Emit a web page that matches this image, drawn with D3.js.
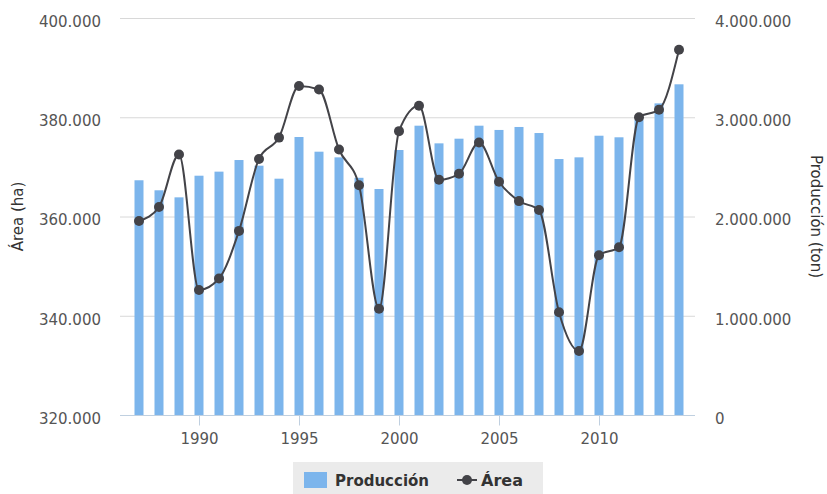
<!DOCTYPE html>
<html>
<head>
<meta charset="utf-8">
<script src="https://cdn.jsdelivr.net/npm/d3@7"></script>
<style>
  body { margin: 0; background: #fff; }
  text { font-family: "DejaVu Sans", sans-serif; }
</style>
</head>
<body>
<script>
// years shown on the x axis
var years = [1987, 1988, 1989, 1990, 1991, 1992, 1993, 1994, 1995, 1996,
             1997, 1998, 1999, 2000, 2001, 2002, 2003, 2004, 2005, 2006,
             2007, 2008, 2009, 2010, 2011, 2012, 2013, 2014];

// Producción (ton)
var produccion = [2365000, 2264000, 2193000, 2411000, 2452000, 2569000, 2512000, 2381000, 2801000, 2653000,
                  2596000, 2390000, 2277000, 2670000, 2915000, 2737000, 2784000, 2915000, 2872000, 2902000,
                  2841000, 2579000, 2596000, 2814000, 2798000, 2975000, 3140000, 3332000];

// Área (ha)
var area = [359100, 361900, 372500, 345200, 347500, 357100, 371600, 375900, 386300, 385600,
            373500, 366300, 341400, 377200, 382300, 367400, 368600, 374900, 367000, 363100,
            361300, 340700, 332900, 352200, 353800, 380000, 381500, 393600];

var xTicks = [1990, 1995, 2000, 2005, 2010];
var areaTicks = [320000, 340000, 360000, 380000, 400000];
var prodTicks = [0, 1000000, 2000000, 3000000, 4000000];

var w = 827, h = 494;
var pLeft = 120, pRight = 695, pTop = 18, pBottom = 415;

var loc = d3.formatLocale({ decimal: ",", thousands: ".", grouping: [3], currency: ["", ""] });
var fmt = loc.format(",d");

var svg = d3.select("body").append("svg")
  .attr("width", w)
  .attr("height", h);

var x = d3.scaleLinear().domain([1986.05, 2014.8]).range([pLeft, pRight]);
var yArea = d3.scaleLinear().domain([320000, 400000]).range([pBottom, pTop]);
var yProd = d3.scaleLinear().domain([0, 4000000]).range([pBottom, pTop]);

// grid
svg.append("g").selectAll("line")
  .data(areaTicks.slice(1))
  .enter().append("line")
  .attr("x1", pLeft).attr("x2", pRight)
  .attr("y1", function(d){ return yArea(d) + 0.5; })
  .attr("y2", function(d){ return yArea(d) + 0.5; })
  .attr("stroke", "#d8d8d8")
  .attr("stroke-width", 1);

// bars
svg.append("g").selectAll("rect")
  .data(years)
  .enter().append("rect")
  .attr("x", function(d){ return x(d) - 4.5; })
  .attr("width", 9)
  .attr("y", function(d, i){ return yProd(produccion[i]); })
  .attr("height", function(d, i){ return pBottom - yProd(produccion[i]); })
  .attr("fill", "#7cb5ec");

// x axis
var xAxis = svg.append("g")
  .attr("transform", "translate(0," + (pBottom + 0.5) + ")")
  .call(d3.axisBottom(x).tickValues(xTicks).tickFormat(d3.format("d")).tickSize(10).tickPadding(8));
xAxis.select(".domain").attr("stroke", "#c0d0e0").attr("d", "M" + pLeft + ",0H" + pRight);
xAxis.selectAll(".tick line").attr("stroke", "#c0d0e0");
xAxis.selectAll(".tick text").attr("fill", "#555").style("font-size", "15px");

// left axis
var yl = svg.append("g")
  .attr("transform", "translate(" + (pLeft - 16) + ",0)")
  .call(d3.axisLeft(yArea).tickValues(areaTicks).tickFormat(fmt).tickSize(0));
yl.select(".domain").remove();
yl.selectAll(".tick text").attr("fill", "#555").attr("dy", "0.55em").style("font-size", "15px");

// right axis
var yr = svg.append("g")
  .attr("transform", "translate(" + (pRight + 17) + ",0)")
  .call(d3.axisRight(yProd).tickValues(prodTicks).tickFormat(fmt).tickSize(0));
yr.select(".domain").remove();
yr.selectAll(".tick text").attr("fill", "#555").attr("dy", "0.55em").style("font-size", "15px");

// axis titles
svg.append("text")
  .text("Área (ha)")
  .attr("transform", "translate(23," + ((pTop + pBottom) / 2) + ") rotate(-90)")
  .attr("text-anchor", "middle")
  .attr("fill", "#333")
  .style("font-size", "15px");

svg.append("text")
  .text("Producción (ton)")
  .attr("transform", "translate(811," + ((pTop + pBottom) / 2) + ") rotate(90)")
  .attr("text-anchor", "middle")
  .attr("fill", "#333")
  .style("font-size", "15px");

// area line
var line = d3.line()
  .x(function(d){ return x(d); })
  .y(function(d, i){ return yArea(area[i]); })
  .curve(d3.curveMonotoneX);

svg.append("path")
  .datum(years)
  .attr("d", line)
  .attr("fill", "none")
  .attr("stroke", "#434348")
  .attr("stroke-width", 2);

svg.append("g").selectAll("circle")
  .data(years)
  .enter().append("circle")
  .attr("cx", function(d){ return x(d); })
  .attr("cy", function(d, i){ return yArea(area[i]); })
  .attr("r", 5)
  .attr("fill", "#434348");

// legend
var lg = svg.append("g");
lg.append("rect")
  .attr("x", 293).attr("y", 462)
  .attr("width", 250).attr("height", 34)
  .attr("fill", "#ebebeb");
lg.append("rect")
  .attr("x", 304).attr("y", 472)
  .attr("width", 23).attr("height", 16)
  .attr("fill", "#7cb5ec");
lg.append("text")
  .text("Producción")
  .attr("x", 335).attr("y", 486)
  .attr("fill", "#333")
  .style("font-size", "15px")
  .style("font-weight", "bold");
lg.append("line")
  .attr("x1", 457).attr("x2", 477)
  .attr("y1", 480).attr("y2", 480)
  .attr("stroke", "#434348").attr("stroke-width", 2);
lg.append("circle")
  .attr("cx", 467).attr("cy", 480).attr("r", 5)
  .attr("fill", "#434348");
lg.append("text")
  .text("Área")
  .attr("x", 481).attr("y", 486)
  .attr("fill", "#333")
  .style("font-size", "16px")
  .style("font-weight", "bold");
</script>
</body>
</html>
